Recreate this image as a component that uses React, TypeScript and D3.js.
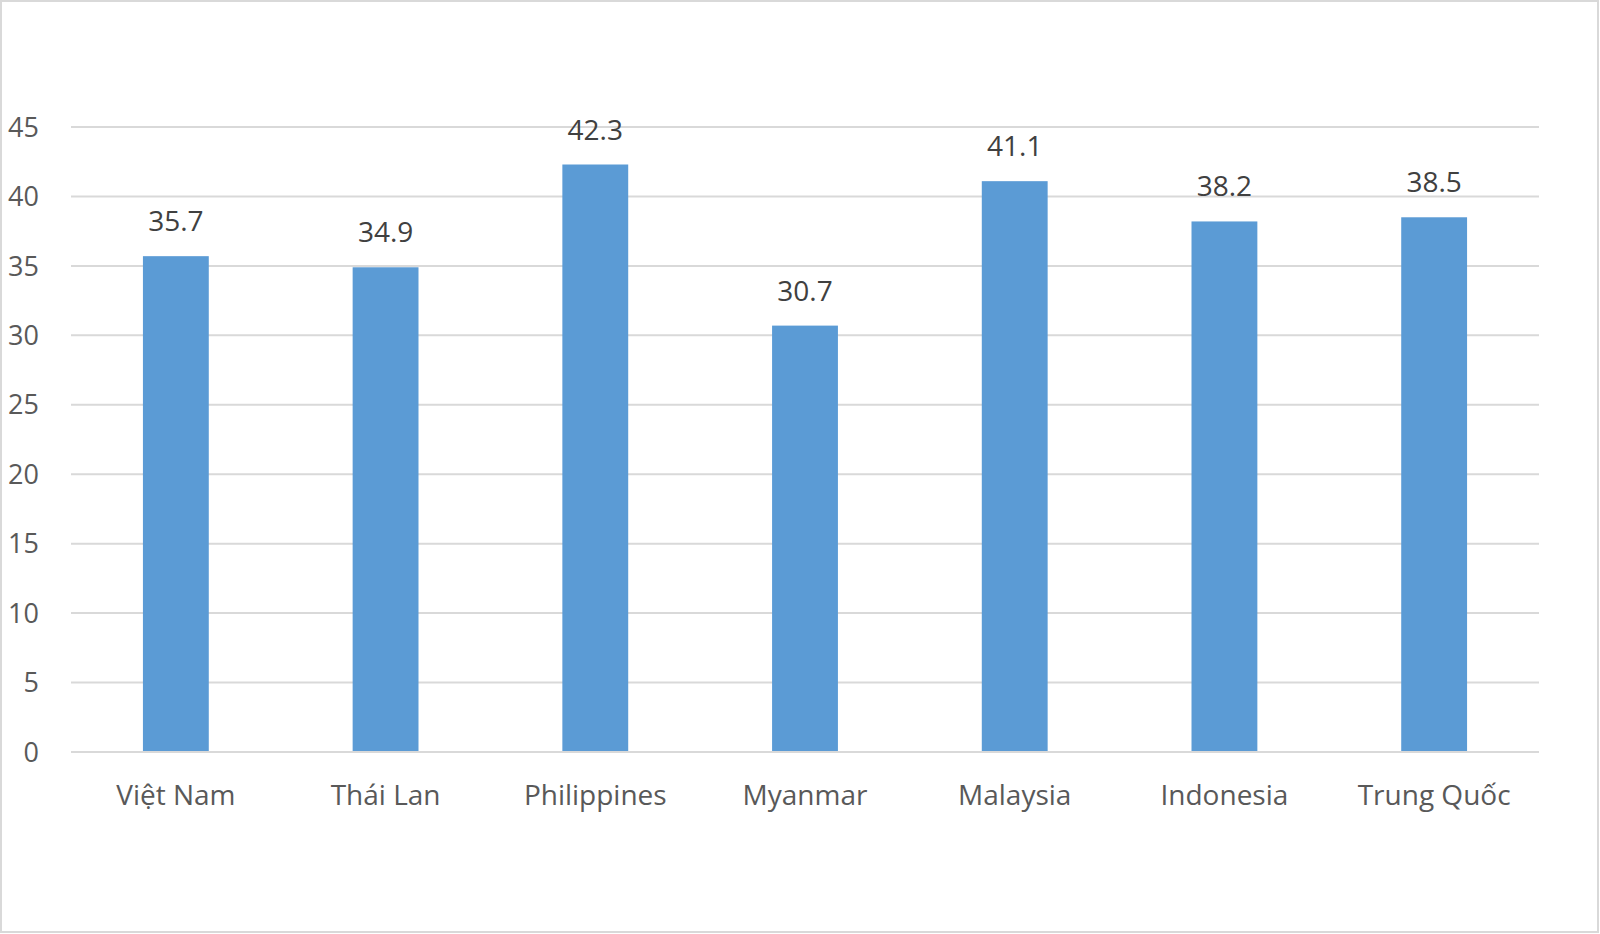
import { useMemo } from 'react';
import * as d3 from 'd3';

const categories = ['Việt Nam', 'Thái Lan', 'Philippines', 'Myanmar', 'Malaysia', 'Indonesia', 'Trung Quốc'];
const values = [35.7, 34.9, 42.3, 30.7, 41.1, 38.2, 38.5];
const yTicks = [0, 5, 10, 15, 20, 25, 30, 35, 40, 45];

const FONT = '"Open Sans", Lato, sans-serif';

export default function App(): React.ReactNode {
  const width = 1600;
  const height = 934;
  const margin = { top: 127, right: 61, bottom: 182, left: 71 };

  const { x, y, barW } = useMemo(() => {
    const x = d3
      .scaleBand<string>()
      .domain(categories)
      .range([margin.left, width - margin.right])
      .padding(0);
    const y = d3.scaleLinear().domain([0, 45]).range([height - margin.bottom, margin.top]);
    return { x, y, barW: x.bandwidth() * 0.314 };
  }, []);

  return (
    <svg
      width={width}
      height={height}
      viewBox={`0 0 ${width} ${height}`}
      style={{ position: 'fixed', left: 0, top: 0, background: '#fff' }}
    >
      <rect x={1} y={1} width={width - 3} height={height - 3} fill="#fff" stroke="#d9d9d9" strokeWidth={2} />
      {yTicks.map((t) => (
        <g key={t}>
          <line
            x1={margin.left}
            x2={width - margin.right}
            y1={y(t)}
            y2={y(t)}
            stroke="#d9d9d9"
            strokeWidth={2}
          />
          <text
            x={39}
            y={y(t)}
            dy="0.36em"
            textAnchor="end"
            fill="#595959"
            fontSize={27}
            fontFamily={FONT}
          >
            {t}
          </text>
        </g>
      ))}
      {categories.map((c, i) => {
        const cx = (x(c) ?? 0) + x.bandwidth() / 2;
        return (
          <g key={c}>
            <rect
              x={cx - barW / 2}
              y={y(values[i])}
              width={barW}
              height={y(0) - y(values[i]) - 1}
              fill="#5b9bd5"
            />
            <text
              x={cx}
              y={y(values[i]) - 25}
              textAnchor="middle"
              fill="#404040"
              fontSize={28}
              fontFamily={FONT}
            >
              {values[i]}
            </text>
            <text
              x={cx}
              y={805}
              textAnchor="middle"
              fill="#595959"
              fontSize={28}
              fontFamily={FONT}
            >
              {c}
            </text>
          </g>
        );
      })}
    </svg>
  );
}
